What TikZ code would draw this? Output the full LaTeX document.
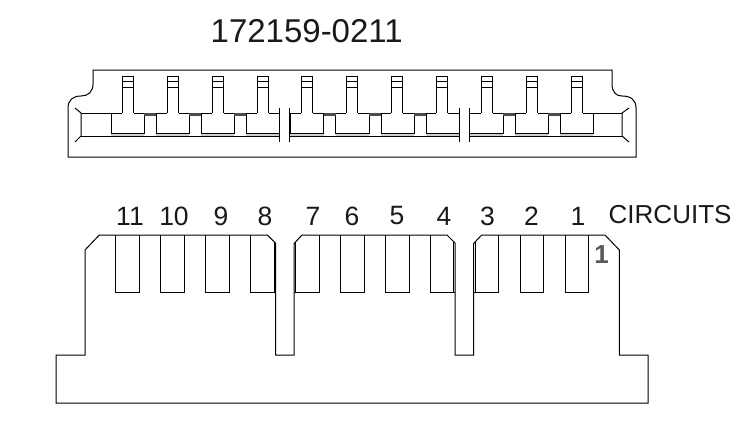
\documentclass[tikz,border=0pt]{standalone}
\usepackage{fontspec}
\setmainfont{Liberation Sans}
\tikzset{
  outline/.style={line width=1pt,draw=black,line join=miter},
  gapcap/.style={line width=2.8pt,draw=black!70},
  band/.style={line width=2.2pt,draw=black!20},
  lbl/.style={inner sep=0pt,anchor=center,font=\fontsize{26.5}{26.5}\selectfont,text=black!90},
}
\begin{document}
\begin{tikzpicture}[x=1pt,y=-1pt]
\useasboundingbox (0,0) rectangle (752,445);
% title
\node[lbl,font=\fontsize{33}{33}\selectfont] (title) at (306.7,31) {172159-0211};
% top view outline
\draw[outline] (93,70) -- (612,70) -- (612,84) .. controls (612,92) and (616,96) .. (622,96)
  .. controls (631,96) and (636,100) .. (636,108) -- (636,157) -- (68,157) -- (68,108)
  .. controls (68,100) and (73,96) .. (81,96) .. controls (88,96) and (93,92) .. (93,84) -- cycle;
% grey bands under the cells
\foreach \a/\b in {111/144,156/189,201/234,246/279,290/323.5,335.7/369,381/414,426/459,469/503,515/548,560/593}
  \draw[band] (\a,134.6) -- (\b,134.6);
% end walls
\draw[outline] (75,108) -- (81,113) -- (81,136) -- (75,142);
\draw[outline] (629,108) -- (622,113) -- (622,136) -- (629,142);
\draw[outline] (81,113) -- (111,113);
\draw[outline] (593,113) -- (622,113);
% long lower lines
\draw[outline] (81,136) -- (280,136);
\draw[outline] (290,136) -- (459,136);
\draw[outline] (469,136) -- (622,136);
% slots
\foreach \x in {279.6,289.6,459.3,469.3}
  \draw[outline,line width=1.4pt] (\x,108) -- (\x,142);
% terminals
\foreach \x in {122,167,212,257,301,346,391,436,481,526,571}{
  \draw[outline] (\x,113) -- (\x,76.7) -- (\x+11.7,76.7) -- (\x+11.7,113);
  \draw[outline] (\x,81.5) -- (\x+11.7,81.5);
  \draw[outline] (\x,87) -- (\x+11.7,87);
}
% T cells: left, right
\foreach \a/\b/\s in {111/144/122,156/189/167,201/234/212,246/279/257,290/323.5/301,335.7/369/346,381/414/391,426/459/436,469/503/481,515/548/526,560/593/571}{
  \draw[outline] (\s,113) -- (\a,113) -- (\a,133.3) -- (\b,133.3) -- (\b,113) -- (\s+11.7,113);
}
% dark caps between cells
\foreach \a/\b in {144/156,189/201,234/246,323.5/335.7,369/381,414/426,503/515,548/560}
  \draw[gapcap] (\a,114.4) -- (\b,114.4);
% front view
\draw[outline] (85,355) -- (85,250) -- (99.3,235) -- (267.3,235) -- (275.5,243) -- (275.5,355)
  -- (294,355) -- (294,243.6) -- (302,235) -- (447,235) -- (455,243) -- (455,355)
  -- (473.5,355) -- (473.5,243.6) -- (481.7,235) -- (605,235) -- (619.3,250) -- (619.3,355)
  -- (648,355) -- (648,403) -- (56,403) -- (56,355) -- cycle;
% pin sockets
\foreach \a/\b in {115.7/139.3,160.7/184.3,205.7/229.3,340/364,385/409,520/543,565/588}
  \draw[outline] (\a,235) -- (\a,292.7) -- (\b,292.7) -- (\b,235);
% sockets beside the gaps
\draw[outline] (250.7,235) -- (250.7,292.7) -- (275.5,292.7);
\draw[outline] (274,241.7) -- (274,292.7);
\draw[outline] (319,235) -- (319,292.7) -- (294,292.7);
\draw[outline] (295.7,241.8) -- (295.7,292.7);
\draw[outline] (430.7,235) -- (430.7,292.7) -- (455,292.7);
\draw[outline] (453.3,241.3) -- (453.3,292.7);
\draw[outline] (498.3,235) -- (498.3,292.7) -- (473.5,292.7);
\draw[outline] (475,242.2) -- (475,292.7);
% circuit numbers
\foreach \n/\x in {11/130,10/174,9/221,8/265,7/313,6/352,5/397,4/444,3/487.5,2/531.5,1/578}
  \node[lbl] (c\n) at (\x,216) {\n};
\node[lbl,font=\fontsize{26}{26}\selectfont,anchor=west] (circ) at (608.5,214.5) {CIRCUITS};
\node[lbl,font=\bfseries\fontsize{26}{26}\selectfont,text=black!65] (pinone) at (601.5,254.5) {1};
\end{tikzpicture}
\end{document}
